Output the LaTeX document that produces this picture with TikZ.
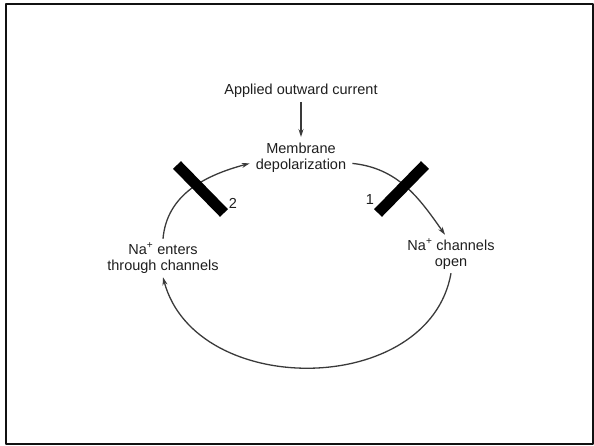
\documentclass[tikz,border=0pt]{standalone}
\usepackage{fontspec}
\setmainfont{Liberation Sans}
\usetikzlibrary{arrows.meta}
\newcommand{\Unit}{1pt}
\newcommand{\Stroke}{1.3pt}
\newcommand{\Block}{11pt}
\definecolor{ink}{HTML}{1E1E1E}
\definecolor{wire}{HTML}{3A3A3A}
\definecolor{frame}{HTML}{111111}

\begin{document}
\begin{tikzpicture}[x=\Unit,y=\Unit, line join=round,
  txt/.style={text=ink, align=center, inner sep=4pt,
    font=\fontsize{14.5}{16}\selectfont},
  flow/.style={wire, line width=\Stroke,
    -{Stealth[length=8pt,width=5pt]}},
  blocker/.style={black, line width=\Block}]

  \useasboundingbox (0,0) rectangle (594,445);

  % ---- the frame ----------------------------------------------------------
  \draw[frame,line width=2pt] (6,1.5) rectangle (592.5,441);
  \draw[frame,line width=1pt] (6,441.5) -- (592.5,441.5);

  % ---- the four statements ------------------------------------------------
  \node[txt] (applied) at (301,354) {Applied outward current};
  \node[txt, inner sep=6pt] (memb) at (301,287) {Membrane\\depolarization};
  \node[txt] (open) at (451,191) {Na\textsuperscript{+} channels\\open};
  \node[txt] (enters) at (163,187) {Na\textsuperscript{+} enters\\through channels};

  % ---- the loop -----------------------------------------------------------
  \draw[flow] (applied) -- (memb);
  \draw[flow] (memb.-6) to[out=-6, in=125] ([xshift=-6pt]open.north);
  \draw[flow] (open.south) to[out=-100, in=-75, looseness=1.12] (enters.south);
  \draw[flow] (enters.north) to[out=85, in=195] (memb.186);

  % ---- the two blocks, where the loop can be cut --------------------------
  \draw[blocker] (425,280) -- (378,232);
  \node[text=ink, font=\fontsize{14.5}{16}\selectfont] (one) at (370,245) {1};
  \draw[blocker] (177,280) -- (224,232);
  \node[text=ink, font=\fontsize{14.5}{16}\selectfont] (two) at (233,242) {2};

\end{tikzpicture}
\end{document}
